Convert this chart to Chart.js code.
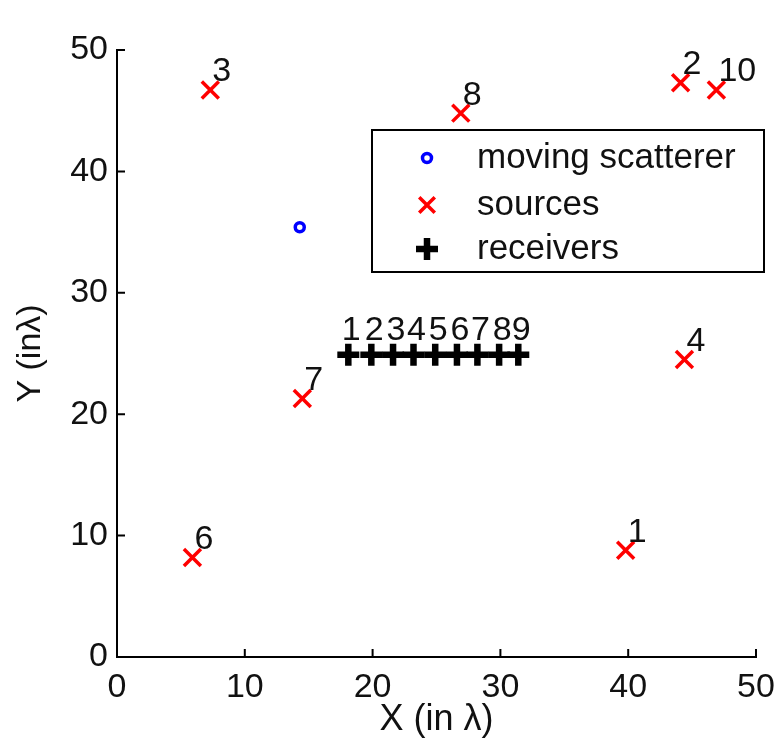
<!DOCTYPE html>
<html>
<head>
<meta charset="utf-8">
<script src="https://cdn.jsdelivr.net/npm/chart.js@4.4.0/dist/chart.umd.min.js"></script>
<style>
  html, body { margin: 0; padding: 0; background: #fff; }
  #myScatterChart { display: block; }
</style>
</head>
<body>
<canvas id="myScatterChart" width="775" height="742"></canvas>
<script>
// data (units of lambda)
const scattererX = [14.3];
const scattererY = [35.4];

const sourceIds = ['1', '2', '3', '4', '6', '7', '8', '10'];
const sourceX = [39.8, 44.1, 7.3, 44.4, 5.9, 14.5, 26.9, 46.9];
const sourceY = [8.8, 47.3, 46.7, 24.5, 8.2, 21.3, 44.8, 46.7];

const receiverIds = ['1', '2', '3', '4', '5', '6', '7', '8', '9'];
const receiverX = [18.1, 19.9, 21.6, 23.2, 24.9, 26.6, 28.2, 29.9, 31.4];
const receiverY = [24.9, 24.9, 24.9, 24.9, 24.9, 24.9, 24.9, 24.9, 24.9];

const xTicks = [0, 10, 20, 30, 40, 50];
const yTicks = [0, 10, 20, 30, 40, 50];

const FONT = "'Liberation Sans', Arial, sans-serif";

function toPoints(xs, ys) {
    return xs.map((x, i) => ({ x: x, y: ys[i] }));
}

// number labels next to the markers
const labelPlugin = {
    id: 'pointLabels',
    afterDatasetsDraw(chart) {
        const ctx = chart.ctx;
        ctx.save();
        ctx.fillStyle = '#111';
        ctx.font = '34px ' + FONT;
        ctx.textBaseline = 'middle';
        chart.data.datasets.forEach((ds, i) => {
            if (!ds.ids) return;
            const meta = chart.getDatasetMeta(i);
            meta.data.forEach((pt, j) => {
                if (ds.labelAlign === 'center') {
                    ctx.textAlign = 'center';
                    ctx.fillText(ds.ids[j], pt.x + 3, pt.y - 24);
                } else {
                    ctx.textAlign = 'left';
                    ctx.fillText(ds.ids[j], pt.x + 2, pt.y - 18);
                }
            });
        });
        ctx.restore();
    }
};

// inward tick marks, matlab style
const tickPlugin = {
    id: 'inwardTicks',
    afterDraw(chart) {
        const ctx = chart.ctx;
        const area = chart.chartArea;
        const xs = chart.scales.x;
        const ys = chart.scales.y;
        ctx.save();
        ctx.strokeStyle = '#000';
        ctx.lineWidth = 2;
        ctx.beginPath();
        xTicks.forEach(v => {
            const px = xs.getPixelForValue(v);
            ctx.moveTo(px, area.bottom);
            ctx.lineTo(px, area.bottom - 8);
        });
        yTicks.forEach(v => {
            const py = ys.getPixelForValue(v);
            ctx.moveTo(area.left, py);
            ctx.lineTo(area.left + 8, py);
        });
        ctx.stroke();
        ctx.restore();
    }
};

// boxed legend inside the axes
const boxLegendPlugin = {
    id: 'boxLegend',
    afterDraw(chart) {
        const ctx = chart.ctx;
        const box = { left: 372, top: 130, right: 764, bottom: 272 };
        const rows = [158, 205, 249];
        ctx.save();
        ctx.fillStyle = '#fff';
        ctx.fillRect(box.left, box.top, box.right - box.left, box.bottom - box.top);
        ctx.strokeStyle = '#000';
        ctx.lineWidth = 2;
        ctx.strokeRect(box.left, box.top, box.right - box.left, box.bottom - box.top);
        chart.data.datasets.forEach((ds, i) => {
            const y = rows[i];
            ctx.strokeStyle = ds.borderColor;
            ctx.fillStyle = ds.backgroundColor;
            ctx.lineWidth = ds.legendLineWidth;
            Chart.helpers.drawPoint(ctx, {
                pointStyle: ds.pointStyle,
                radius: ds.legendRadius,
                rotation: 0,
                borderWidth: ds.legendLineWidth
            }, 427, y);
            ctx.fillStyle = '#111';
            ctx.font = '35px ' + FONT;
            ctx.textAlign = 'left';
            ctx.textBaseline = 'middle';
            ctx.fillText(ds.label, 477, y);
        });
        ctx.restore();
    }
};

const config = {
    type: 'scatter',
    data: {
        datasets: [{
            label: 'moving scatterer',
            data: toPoints(scattererX, scattererY),
            pointStyle: 'circle',
            pointRadius: 4.5,
            borderWidth: 3.5,
            borderColor: '#0000ff',
            backgroundColor: '#ffffff',
            legendRadius: 4.5,
            legendLineWidth: 3.5
        }, {
            label: 'sources',
            data: toPoints(sourceX, sourceY),
            ids: sourceIds,
            pointStyle: 'crossRot',
            pointRadius: 12,
            borderWidth: 3.5,
            borderColor: '#ff0000',
            backgroundColor: '#ff0000',
            legendRadius: 11,
            legendLineWidth: 3.5
        }, {
            label: 'receivers',
            data: toPoints(receiverX, receiverY),
            ids: receiverIds,
            labelAlign: 'center',
            pointStyle: 'cross',
            pointRadius: 11,
            borderWidth: 6.5,
            borderColor: '#000000',
            backgroundColor: '#000000',
            legendRadius: 11,
            legendLineWidth: 6.5
        }]
    },
    options: {
        responsive: false,
        animation: false,
        layout: { padding: { top: 50, right: 19, bottom: 0, left: 0 } },
        plugins: {
            legend: { display: false },
            tooltip: { enabled: false }
        },
        scales: {
            x: {
                type: 'linear',
                min: 0,
                max: 50,
                afterBuildTicks: (scale) => { scale.ticks = xTicks.map(v => ({ value: v })); },
                afterFit: (scale) => {
                    scale.height = 85;
                    scale.paddingRight = 0;
                    scale.paddingLeft = 0;
                },
                grid: { drawOnChartArea: false, drawTicks: false },
                border: { color: '#000', width: 2 },
                ticks: { color: '#111', padding: 10, maxRotation: 0, font: { family: FONT, size: 34 } },
                title: {
                    display: true,
                    text: 'X (in λ)',
                    color: '#111',
                    padding: { top: 0, bottom: 0 },
                    font: { family: FONT, size: 36 }
                }
            },
            y: {
                type: 'linear',
                min: 0,
                max: 50,
                afterBuildTicks: (scale) => { scale.ticks = yTicks.map(v => ({ value: v })); },
                afterFit: (scale) => {
                    scale.width = 117;
                    scale.paddingTop = 0;
                    scale.paddingBottom = 0;
                },
                grid: { drawOnChartArea: false, drawTicks: false },
                border: { color: '#000', width: 2 },
                ticks: { color: '#111', padding: 9, font: { family: FONT, size: 34 } },
                title: {
                    display: true,
                    text: 'Y (inλ)',
                    color: '#111',
                    padding: { top: 10, bottom: 0 },
                    font: { family: FONT, size: 34 }
                }
            }
        }
    },
    plugins: [labelPlugin, tickPlugin, boxLegendPlugin]
};

const scatterChart = new Chart(document.querySelector('#myScatterChart'), config);
</script>
</body>
</html>
